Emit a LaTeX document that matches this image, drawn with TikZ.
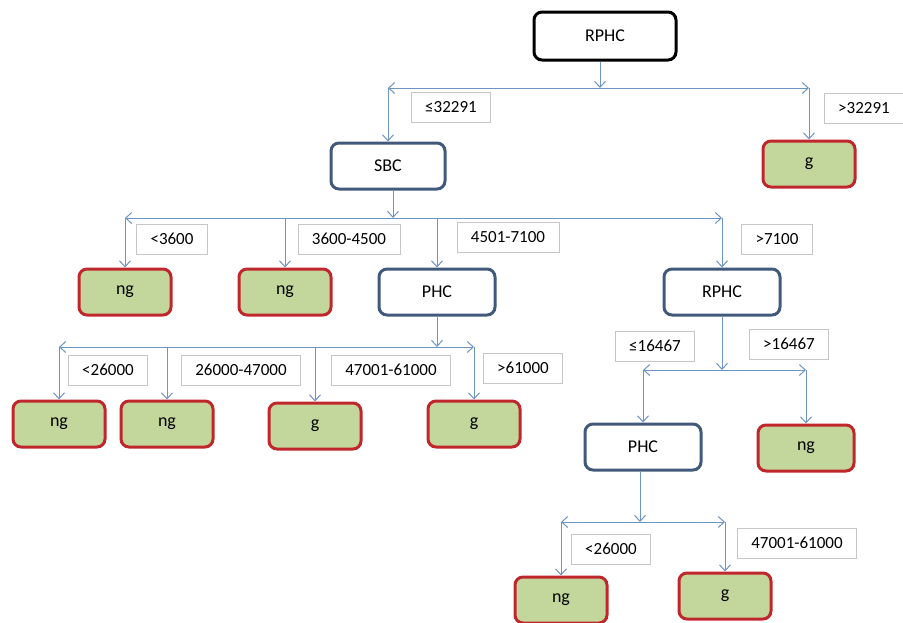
\documentclass[tikz,border=0pt]{standalone}
\usepackage{fontspec}
\setmainfont{Carlito}
\usetikzlibrary{arrows.meta}
\definecolor{splitblue}{HTML}{41597A}
\definecolor{leafred}{HTML}{C0272D}
\definecolor{leafgreen}{HTML}{C3D69B}
\definecolor{linkblue}{HTML}{6E94C2}

\begin{document}
\begin{tikzpicture}[x=1pt, y=-1pt,
font=\fontsize{17}{20}\selectfont,
rootnode/.style={rectangle, rounded corners=8pt, draw=black, fill=white, line width=3pt, minimum width=142pt, minimum height=48pt, font=\fontsize{18}{20}\selectfont},
splitnode/.style={rectangle, rounded corners=8pt, draw=splitblue, fill=white, line width=3pt, minimum width=116pt, minimum height=46pt, font=\fontsize{18}{20}\selectfont},
leafnode/.style={rectangle, rounded corners=8pt, draw=leafred, fill=leafgreen, line width=3pt, minimum width=92pt, minimum height=46pt, font=\fontsize{18}{20}\selectfont},
condnode/.style={rectangle, draw=gray!45, fill=white, line width=0.8pt, inner xsep=14pt, minimum height=30pt},
link/.style={draw=linkblue, line width=1pt, >={Straight Barb[length=6pt,width=11pt]}},
]
\useasboundingbox (0,0) rectangle (903,622);

%Nodes
\node[rootnode]     (rphc)   at (605,36)  {RPHC};
\node[splitnode, minimum width=114pt] (sbc) at (388,166) {SBC};
\node[leafnode]     (g1)     at (809,164) {g};
\node[leafnode]     (ng1)    at (125,292) {ng};
\node[leafnode]     (ng2)    at (285,292) {ng};
\node[splitnode]    (phc1)   at (437,292) {PHC};
\node[splitnode]    (rphc2)  at (722,292) {RPHC};
\node[leafnode]     (ng3)    at (59,424)  {ng};
\node[leafnode]     (ng4)    at (167,424) {ng};
\node[leafnode]     (g2)     at (315,426) {g};
\node[leafnode]     (g3)     at (474,424) {g};
\node[splitnode]    (phc2)   at (643,447) {PHC};
\node[leafnode, minimum width=96pt] (ng5) at (806,448) {ng};
\node[leafnode]     (ng6)    at (561,600) {ng};
\node[leafnode]     (g4)     at (725,596) {g};

%Hubs
\coordinate (h1) at (600,88);
\coordinate (h2) at (393,218);
\coordinate (h3) at (437,347);
\coordinate (h4) at (722,370);
\coordinate (h5) at (640,522);

%Lines
\draw[link,->] (rphc.south -| h1) -- (h1);
\draw[link,<->] (sbc |- h1) -- (g1 |- h1);
\foreach \n in {sbc,g1} \draw[link,->] (\n |- h1) -- (\n.north);

\draw[link,->] (sbc.south -| h2) -- (h2);
\draw[link,<->] (ng1 |- h2) -- (rphc2 |- h2);
\foreach \n in {ng1,ng2,phc1,rphc2} \draw[link,->] (\n |- h2) -- (\n.north);

\draw[link,->] (phc1.south) -- (h3);
\draw[link,<->] (ng3 |- h3) -- (g3 |- h3);
\foreach \n in {ng3,ng4,g2,g3} \draw[link,->] (\n |- h3) -- (\n.north);

\draw[link,->] (rphc2.south) -- (h4);
\draw[link,<->] (phc2 |- h4) -- (ng5 |- h4);
\foreach \n in {phc2,ng5} \draw[link,->] (\n |- h4) -- (\n.north);

\draw[link,->] (phc2.south -| h5) -- (h5);
\draw[link,<->] (ng6 |- h5) -- (g4 |- h5);
\foreach \n in {ng6,g4} \draw[link,->] (\n |- h5) -- (\n.north);

%Conditions
\node[condnode] (c1)  at (451,107) {≤32291};
\node[condnode] (c2)  at (864,108) {>32291};
\node[condnode] (c3)  at (172,239) {<3600};
\node[condnode] (c4)  at (349,239) {3600-4500};
\node[condnode] (c5)  at (508,237) {4501-7100};
\node[condnode] (c6)  at (777,239) {>7100};
\node[condnode] (c7)  at (108,370) {<26000};
\node[condnode] (c8)  at (241,370) {26000-47000};
\node[condnode] (c9)  at (391,370) {47001-61000};
\node[condnode] (c10) at (523,368) {>61000};
\node[condnode] (c11) at (655,346) {≤16467};
\node[condnode] (c12) at (789,344) {>16467};
\node[condnode] (c13) at (611,549) {<26000};
\node[condnode] (c14) at (797,543) {47001-61000};
\end{tikzpicture}
\end{document}
